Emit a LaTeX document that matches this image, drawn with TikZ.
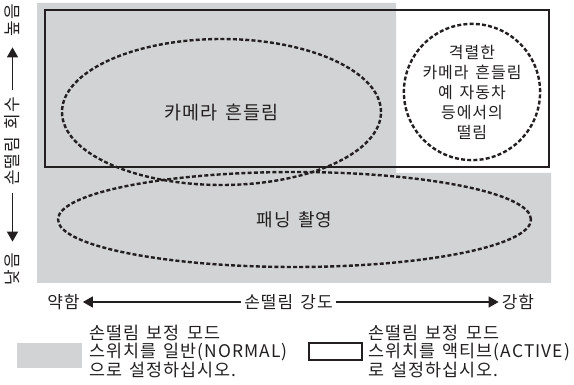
\documentclass[tikz,border=0pt]{standalone}
\usepackage{fontspec}
\setmainfont[LetterSpace=6,WordSpace=1.5]{Noto Sans CJK KR}
\usepackage{tikz}
\usetikzlibrary{arrows.meta,shapes.geometric}
\definecolor{camGrey}{HTML}{D1D3D4}
\definecolor{camInk}{HTML}{231F20}

\begin{document}
\begin{tikzpicture}[
    x=1pt, y=-1pt,
    >={Triangle[length=10pt,width=11pt]},
    every node/.style={text=camInk},
    frame/.style={draw=camInk, line width=1.6pt},
    blob/.style={draw=camInk, line width=2.4pt, dash pattern=on 4pt off 2.2pt,
                 inner sep=0pt},
    ax/.style={font=\fontsize{17}{17}\selectfont, inner sep=#1},
    ax/.default=3pt,
    axline/.style={->, color=camInk, line width=1.3pt},
    legtxt/.style={font=\fontsize{17.4}{17.8}\selectfont, align=left,
                   anchor=west, inner sep=0pt},
  ]

  \useasboundingbox (0,0) rectangle (574,385);

  % --- shaded zone and frame ---
  \fill[camGrey] (37,3) -| (396,173) -| (551,283) -| (37,3) -- cycle;
  \draw[frame] (45,10) rectangle (549,167);

  % --- shake regions ---
  \node[blob, ellipse, minimum width=319pt, minimum height=146pt,
        font=\fontsize{18.5}{18.5}\selectfont] (shake) at (221.5,112)
    {카메라 흔들림};

  \node[blob, ellipse, minimum width=473pt, minimum height=95pt,
        font=\fontsize{18}{18}\selectfont] (pan) at (294.5,219.5)
    {패닝 촬영};

  \node[blob, circle, minimum size=131pt, align=center,
        font=\fontsize{16}{20}\selectfont] (violent) at (472,92)
    {격렬한\\카메라 흔들림\\예 자동차\\등에서의\\떨림};

  % --- axes ---
  \node[ax=7pt, rotate=90] (count) at (12.5,141.5) {손떨림 회수};
  \node[ax=7pt, rotate=90] (high)  at (12.5,20)    {높음};
  \node[ax=7pt, rotate=90] (low)   at (12.5,269)   {낮음};
  \draw[axline, shorten >=4pt] (count.east) -- (high.west);
  \draw[axline, shorten >=4pt] (count.west) -- (low.east);

  \node[ax] (force)  at (288.5,302) {손떨림 강도};
  \node[ax] (weak)   at (63.5,302)  {약함};
  \node[ax] (strong) at (518,302)   {강함};
  \draw[axline] (force.west) -- (weak.east);
  \draw[axline] (force.east) -- (strong.west);

  % --- legend ---
  \node[fill=camGrey, minimum width=65pt, minimum height=25pt, inner sep=0pt]
    (swNormal) at (49.5,355.5) {};
  \node[legtxt] (txNormal) at (89,351.5)
    {손떨림 보정 모드\\스위치를 일반(NORMAL)\\으로 설정하십시오.};

  \node[draw=camInk, line width=1.3pt, minimum width=53pt, minimum height=17pt,
        inner sep=0pt] (swActive) at (335.5,351.5) {};
  \node[legtxt] (txActive) at (368,351.5)
    {손떨림 보정 모드\\스위치를 액티브(ACTIVE)\\로 설정하십시오.};

\end{tikzpicture}
\end{document}
